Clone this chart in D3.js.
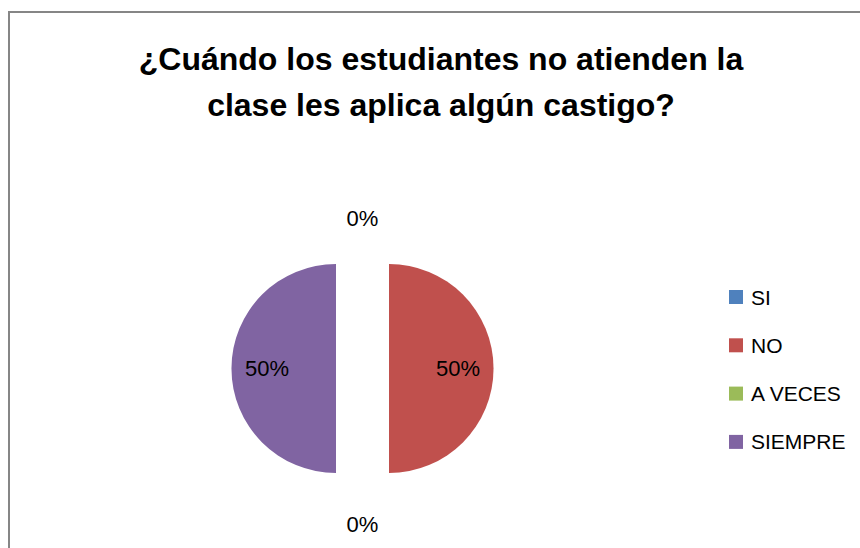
<!DOCTYPE html>
<html>
<head>
<meta charset="utf-8">
<script src="https://cdn.jsdelivr.net/npm/d3@7"></script>
<style>
  body { margin: 0; background: #fff; }
  text { font-family: "Liberation Sans", Arial, sans-serif; fill: #000; }
</style>
</head>
<body>
<div id="chart"></div>
<script>
var titleLines = ["¿Cuándo los estudiantes no atienden la", "clase les aplica algún castigo?"];
var categories = ["SI", "NO", "A VECES", "SIEMPRE"];
var values = [0, 50, 0, 50];
var colors = ["#4F81BD", "#C0504D", "#9BBB59", "#8064A2"];

var width = 860, height = 548;
var cx = 362.5, cy = 368.5, radius = 104.5, explode = 26.5;

var svg = d3.select("#chart").append("svg")
  .attr("width", width)
  .attr("height", height);

/* chart frame */
svg.append("rect")
  .attr("x", 9).attr("y", 12)
  .attr("width", 870).attr("height", 560)
  .attr("fill", "none")
  .attr("stroke", "#868686")
  .attr("stroke-width", 2);

/* title */
svg.selectAll(".title")
  .data(titleLines)
  .enter()
  .append("text")
  .attr("class", "title")
  .attr("x", 441)
  .attr("y", function (d, i) { return 70 + i * 46; })
  .attr("text-anchor", "middle")
  .style("font-size", "32px")
  .style("font-weight", "bold")
  .text(function (d) { return d; });

var total = d3.sum(values);
var pie = d3.pie().sort(null).value(function (d) { return d; });
var arcs = pie(values);
var arc = d3.arc().innerRadius(0).outerRadius(radius);
var inLabel = d3.arc().innerRadius(radius * 1.32).outerRadius(radius * 1.32);
var outLabel = d3.arc().innerRadius(radius + 48.5).outerRadius(radius + 48.5);

function offset(d) {
  var a = (d.startAngle + d.endAngle) / 2;
  return [Math.sin(a) * explode, -Math.cos(a) * explode];
}

var g = svg.append("g").attr("transform", "translate(" + cx + "," + cy + ")");

g.selectAll("path")
  .data(arcs)
  .enter()
  .append("path")
  .attr("d", arc)
  .attr("fill", function (d, i) { return colors[i]; })
  .attr("transform", function (d) {
    var o = offset(d);
    return "translate(" + o[0] + "," + o[1] + ")";
  });

/* data labels */
g.selectAll(".lbl")
  .data(arcs)
  .enter()
  .append("text")
  .attr("class", "lbl")
  .attr("transform", function (d) {
    var o = offset(d);
    if (d.value > 0) {
      var c = inLabel.centroid(d);
      return "translate(" + (c[0] * 0.5 + o[0]) + "," + c[1] + ")";
    }
    var c2 = outLabel.centroid(d);
    return "translate(" + c2[0] + "," + (c2[1] + 3) + ")";
  })
  .attr("dy", "0.35em")
  .attr("text-anchor", "middle")
  .style("font-size", "22px")
  .text(function (d) { return Math.round(d.value / total * 100) + "%"; });

/* legend */
var legend = svg.selectAll(".legend")
  .data(categories)
  .enter()
  .append("g")
  .attr("class", "legend")
  .attr("transform", function (d, i) { return "translate(729," + (297 + i * 48.3) + ")"; });

legend.append("rect")
  .attr("x", 0).attr("y", -7)
  .attr("width", 14).attr("height", 14)
  .attr("fill", function (d, i) { return colors[i]; });

legend.append("text")
  .attr("x", 22)
  .attr("dy", "0.36em")
  .style("font-size", "21px")
  .text(function (d) { return d; });
</script>
</body>
</html>
